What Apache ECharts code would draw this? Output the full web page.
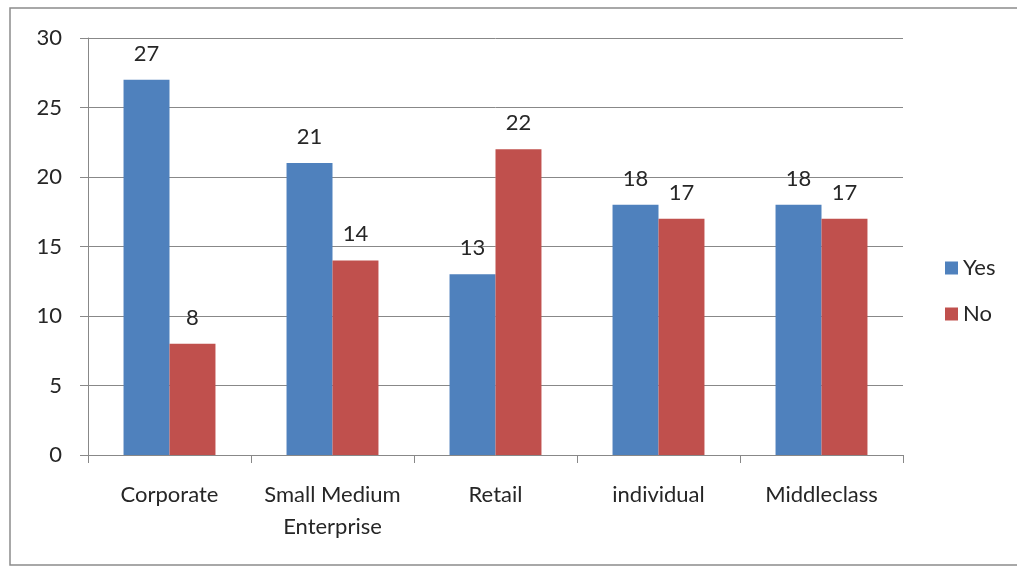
<!DOCTYPE html>
<html><head><meta charset="utf-8">
<script src="https://cdn.jsdelivr.net/npm/echarts@6/dist/echarts.min.js"></script>
<style>html,body{margin:0;padding:0;background:#fff}#c{width:1017px;height:567px}</style>
</head><body><div id="c"></div>
<script>
var categories = ['Corporate', 'Small Medium\nEnterprise', 'Retail', 'individual', 'Middleclass'];
var yesValues = [27, 21, 13, 18, 18];
var noValues = [8, 14, 22, 17, 17];
var seriesNames = ['Yes', 'No'];
var FONT = 'Lato, "Open Sans", sans-serif';
var chart = echarts.init(document.getElementById('c'));
var lbl = {show: true, position: 'top', distance: 15, fontSize: 22, fontFamily: FONT, color: '#262626'};
chart.setOption({
  animation: false,
  graphic: [{type: 'rect', shape: {x: 10, y: 8, width: 1030, height: 557}, style: {fill: 'none', stroke: '#8c8c8c', lineWidth: 1.5}}],
  grid: {left: 88, right: 114, top: 38, bottom: 112},
  legend: {
    orient: 'vertical', left: 940, top: 252, itemGap: 24, itemWidth: 13, itemHeight: 13,
    icon: 'rect',
    textStyle: {fontSize: 22, fontFamily: FONT, color: '#262626'},
    data: seriesNames
  },
  xAxis: {
    type: 'category', data: categories,
    axisLine: {lineStyle: {color: '#888', width: 1}},
    axisTick: {show: true, length: 8, lineStyle: {color: '#888'}},
    axisLabel: {interval: 0, hideOverlap: false, fontSize: 22, fontFamily: FONT, color: '#262626', margin: 24, lineHeight: 32}
  },
  yAxis: {
    type: 'value', min: 0, max: 30, interval: 5,
    axisLine: {show: true, lineStyle: {color: '#888'}},
    axisTick: {show: true, length: 8, lineStyle: {color: '#888'}},
    splitLine: {lineStyle: {color: '#888', width: 1}},
    axisLabel: {fontSize: 22, fontFamily: FONT, color: '#262626', margin: 26}
  },
  series: [
    {name: seriesNames[0], type: 'bar', data: yesValues, itemStyle: {color: '#4F81BD'}, barGap: '0%', barCategoryGap: '43.6%', label: lbl},
    {name: seriesNames[1], type: 'bar', data: noValues, itemStyle: {color: '#C0504D'}, barGap: '0%', barCategoryGap: '43.6%', label: lbl}
  ]
});
</script></body></html>
